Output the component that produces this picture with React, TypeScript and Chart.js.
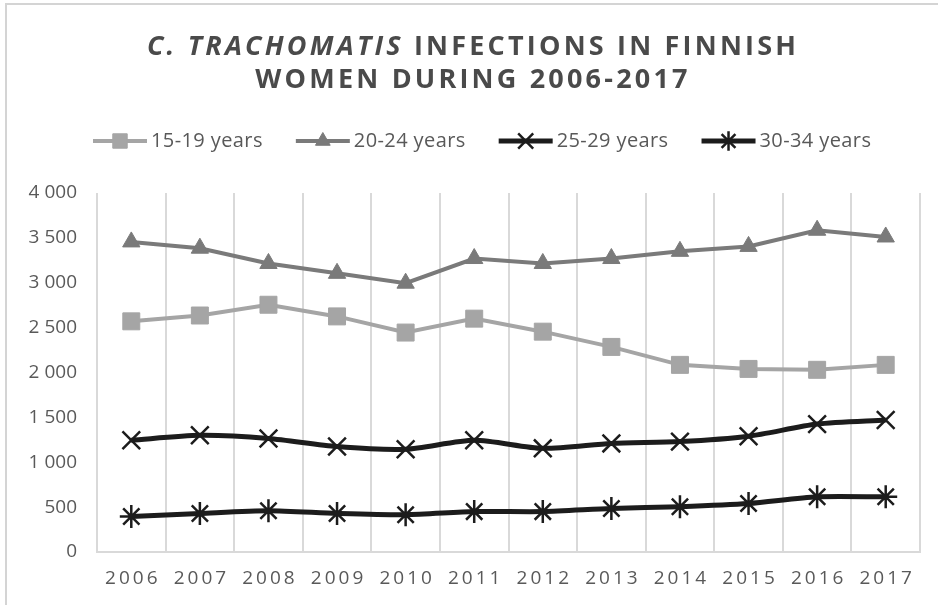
import React, { useEffect, useRef } from 'react';
import { Chart, registerables } from 'chart.js';
import { drawPoint } from 'chart.js/helpers';

Chart.register(...registerables);

// ---- data ----
const years = ['2006', '2007', '2008', '2009', '2010', '2011', '2012', '2013', '2014', '2015', '2016', '2017'];
const seriesLabels = ['15-19 years', '20-24 years', '25-29 years', '30-34 years'];
const age15to19 = [2570, 2635, 2755, 2625, 2445, 2600, 2455, 2285, 2085, 2040, 2030, 2085];
const age20to24 = [3455, 3385, 3215, 3105, 2995, 3270, 3215, 3270, 3350, 3405, 3585, 3510];
const age25to29 = [1245, 1300, 1265, 1175, 1145, 1245, 1155, 1210, 1230, 1290, 1425, 1470];
const age30to34 = [395, 430, 460, 430, 415, 450, 450, 485, 505, 540, 615, 615];
const yMin = 0;
const yMax = 4000;
const yStep = 500;
const titleItalic = 'C. TRACHOMATIS';
const titleRest = ' INFECTIONS IN FINNISH';
const titleLine2 = 'WOMEN DURING 2006-2017';

const TEXT = '#595959';
const TITLE = '#4a4a4a';
const GRID = '#D9D9D9';

function fmt(v: number): string {
  if (v >= 1000) return `${Math.floor(v / 1000)} ${String(v % 1000).padStart(3, '0')}`;
  return String(v);
}

const overlayPlugin = {
  id: 'overlay',
  afterDraw(chart: any) {
    const ctx: CanvasRenderingContext2D = chart.ctx;
    ctx.save();
    // ---- title ----
    const cx = 473;
    ctx.fillStyle = TITLE;
    ctx.textBaseline = 'middle';
    ctx.textAlign = 'left';
    (ctx as any).letterSpacing = '3.2px';
    const fontB = 'bold 27px "Open Sans"';
    const fontBI = 'italic bold 27px "Open Sans"';
    ctx.font = fontBI;
    const w1 = ctx.measureText(titleItalic).width;
    ctx.font = fontB;
    const w2 = ctx.measureText(titleRest).width;
    const x = cx - (w1 + w2) / 2;
    ctx.font = fontBI;
    ctx.fillText(titleItalic, x, 47);
    ctx.font = fontB;
    ctx.fillText(titleRest, x + w1, 47);
    const w3 = ctx.measureText(titleLine2).width;
    ctx.fillText(titleLine2, cx - w3 / 2, 80);

    // ---- legend ----
    (ctx as any).letterSpacing = '0.4px';
    ctx.font = '20px "Open Sans"';
    const ly = 141;
    let lx = 93;
    const lineLen = 54;
    chart.data.datasets.forEach((ds: any) => {
      ctx.strokeStyle = ds.borderColor;
      ctx.lineWidth = ds.borderWidth;
      ctx.beginPath();
      ctx.moveTo(lx, ly);
      ctx.lineTo(lx + lineLen, ly);
      ctx.stroke();
      ctx.fillStyle = ds.pointBackgroundColor;
      ctx.strokeStyle = ds.pointBorderColor;
      ctx.lineWidth = ds.pointBorderWidth;
      drawPoint(ctx, { pointStyle: ds.pointStyle, radius: ds.pointRadius * 0.85, rotation: 0, borderWidth: ds.pointBorderWidth } as any, lx + lineLen / 2, ly);
      ctx.fillStyle = TEXT;
      ctx.fillText(ds.label, lx + lineLen + 4, ly);
      lx += lineLen + 4 + ctx.measureText(ds.label).width + 33;
    });

    // ---- x tick labels (letter-spaced) ----
    const xs = chart.scales.x;
    ctx.font = '19px "Open Sans"';
    (ctx as any).letterSpacing = '3px';
    ctx.fillStyle = TEXT;
    ctx.textAlign = 'left';
    years.forEach((yr, i) => {
      const px = xs.getPixelForValue(i);
      const w = ctx.measureText(yr).width;
      ctx.fillText(yr, px - (w - 3) / 2, 579);
    });
    ctx.restore();
  },
};

export default function App() {
  const ref = useRef<HTMLCanvasElement>(null);
  useEffect(() => {
    if (!ref.current) return;
    const black = '#1c1c1c';
    const chart = new Chart(ref.current, {
      type: 'line',
      data: {
        labels: years,
        datasets: [
          {
            label: seriesLabels[0], data: age15to19,
            borderColor: '#A5A5A5', borderWidth: 4,
            pointStyle: 'rect', pointRadius: 12, pointBorderWidth: 1,
            pointBackgroundColor: '#A5A5A5', pointBorderColor: '#A5A5A5', tension: 0,
          },
          {
            label: seriesLabels[1], data: age20to24,
            borderColor: '#7A7A7A', borderWidth: 4,
            pointStyle: 'triangle', pointRadius: 10, pointBorderWidth: 1,
            pointBackgroundColor: '#7A7A7A', pointBorderColor: '#7A7A7A', tension: 0,
          },
          {
            label: seriesLabels[2], data: age25to29,
            borderColor: black, borderWidth: 5,
            pointStyle: 'crossRot', pointRadius: 12.5, pointBorderWidth: 2.5,
            pointBackgroundColor: black, pointBorderColor: black, tension: 0.25,
          },
          {
            label: seriesLabels[3], data: age30to34,
            borderColor: black, borderWidth: 5,
            pointStyle: 'star', pointRadius: 11.5, pointBorderWidth: 2.5,
            pointBackgroundColor: black, pointBorderColor: black, tension: 0.25,
          },
        ],
      },
      options: {
        responsive: false,
        animation: false,
        devicePixelRatio: 1,
        layout: { padding: { top: 193, right: 18, bottom: 0, left: 0 } },
        plugins: {
          legend: { display: false },
          title: { display: false },
          tooltip: { enabled: false },
        },
        scales: {
          x: {
            offset: true,
            grid: { display: true, offset: true, color: GRID, lineWidth: 2, drawTicks: false },
            border: { display: true, color: GRID, width: 2 },
            ticks: { display: false },
            afterFit: (s: any) => { s.height = 53; },
          },
          y: {
            min: yMin, max: yMax,
            grid: { display: false, drawTicks: false },
            border: { display: false },
            ticks: {
              stepSize: yStep,
              padding: 20,
              color: TEXT,
              font: { family: '"Open Sans"', size: 19 },
              callback: (v: any) => fmt(Number(v)),
            },
            afterFit: (s: any) => { s.width = 97; },
          },
        },
      },
      plugins: [overlayPlugin],
    });
    return () => chart.destroy();
  }, []);
  return (
    <div style={{ position: 'absolute', left: 0, top: 0, width: 938, height: 605, background: '#fff' }}>
      <div style={{ position: 'absolute', left: 5, top: 3, width: 940, height: 610, borderLeft: '2px solid #D4D4D4', borderTop: '2px solid #D4D4D4' }} />
      <canvas ref={ref} width={938} height={605} style={{ position: 'absolute', left: 0, top: 0 }} />
    </div>
  );
}
